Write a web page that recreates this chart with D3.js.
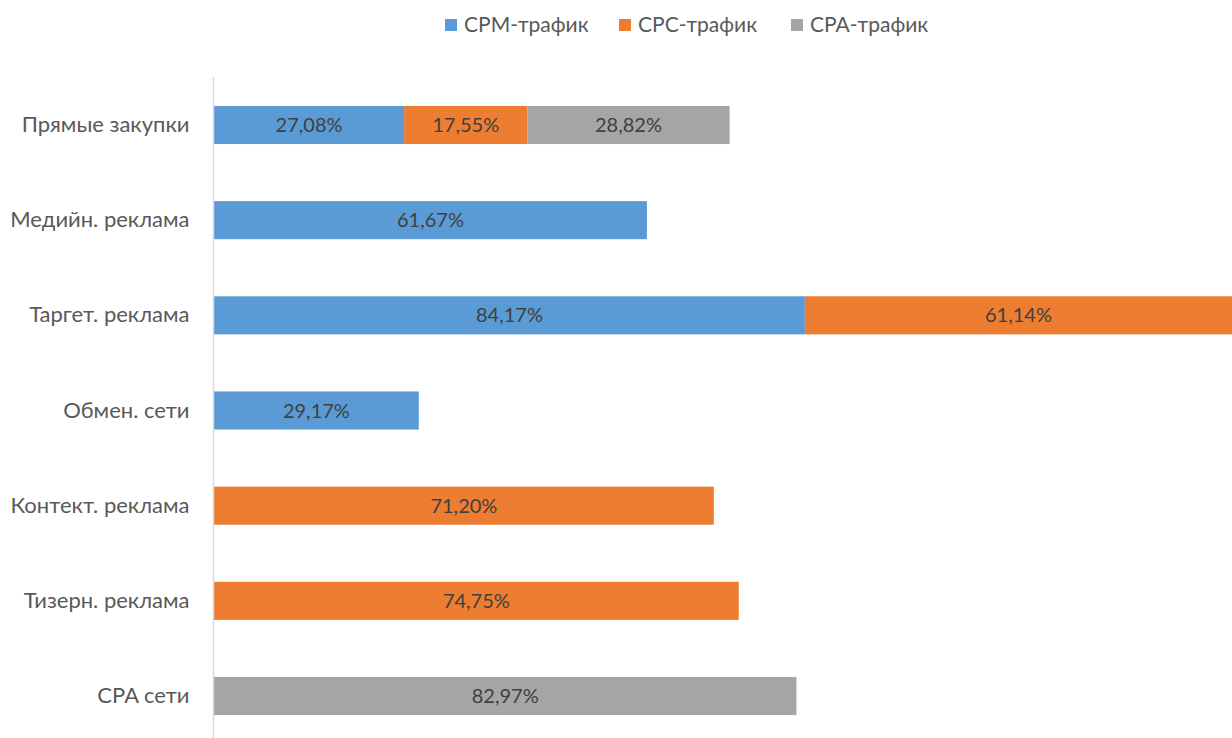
<!DOCTYPE html>
<html>
<head>
<meta charset="utf-8">
<script src="https://cdn.jsdelivr.net/npm/d3@7"></script>
<style>
  html, body { margin: 0; padding: 0; background: #fff; overflow: hidden; }
  svg { display: block; font-family: Lato, "Open Sans", sans-serif; }
</style>
</head>
<body>
<svg id="chart" width="1232" height="738"></svg>
<script>
// Channel categories, top to bottom
const categories = [
  "Прямые закупки",
  "Медийн. реклама",
  "Таргет. реклама",
  "Обмен. сети",
  "Контект. реклама",
  "Тизерн. реклама",
  "CPA сети"
];
// Share of each traffic type per channel, % (null = not present)
const cpmValues = [27.08, 61.67, 84.17, 29.17, null, null, null];
const cpcValues = [17.55, null, 61.14, null, 71.20, 74.75, null];
const cpaValues = [28.82, null, null, null, null, null, 82.97];

const seriesNames = ["CPM-трафик", "CPC-трафик", "CPA-трафик"];
const seriesColors = ["#5B9BD5", "#ED7D31", "#A5A5A5"];
const seriesValues = [cpmValues, cpcValues, cpaValues];

const svg = d3.select("#chart");
const W = 1232, H = 738;
const left = 214;

const x = d3.scaleLinear().domain([0, 100]).range([left, left + 702]);
const y = d3.scaleBand().domain(categories).range([77.4, 743.6])
  .paddingInner(0.6).paddingOuter(0.3);

// Build stacked segments
const segments = [];
categories.forEach((cat, i) => {
  let acc = 0;
  seriesValues.forEach((vals, s) => {
    const v = vals[i];
    if (v != null) {
      segments.push({ cat, s, v, x0: acc, x1: acc + v });
      acc += v;
    }
  });
});

const fmt = v => v.toFixed(2).replace(".", ",") + "%";

svg.append("g").selectAll("rect").data(segments).join("rect")
  .attr("x", d => x(d.x0))
  .attr("y", d => y(d.cat))
  .attr("width", d => x(d.x1) - x(d.x0))
  .attr("height", y.bandwidth())
  .attr("fill", d => seriesColors[d.s]);

// Data labels centred in each visible segment
svg.append("g").selectAll("text").data(segments).join("text")
  .attr("x", d => (x(d.x0) + Math.min(x(d.x1), W)) / 2)
  .attr("y", d => y(d.cat) + y.bandwidth() / 2)
  .attr("dy", "0.35em")
  .attr("text-anchor", "middle")
  .attr("fill", "#404040")
  .style("font-size", "20px")
  .text(d => fmt(d.v));

// Category axis
const axis = d3.axisLeft(y).tickSize(0).tickPadding(24);
const ag = svg.append("g").attr("transform", `translate(${left - 0.5},0)`).call(axis);
ag.select(".domain").attr("stroke", "#D9D9D9").attr("stroke-width", 1.5)
  .attr("d", `M0,77V${H}`);
ag.selectAll(".tick text")
  .attr("fill", "#595959")
  .style("font-size", "22px")
  .style("font-family", "Lato, sans-serif");

// Legend
const legendX = [445, 619, 791];
const lg = svg.append("g");
seriesNames.forEach((name, i) => {
  lg.append("rect").attr("x", legendX[i]).attr("y", 19).attr("width", 12).attr("height", 12)
    .attr("fill", seriesColors[i]);
  lg.append("text").attr("x", legendX[i] + 19).attr("y", 25).attr("dy", "0.35em")
    .attr("fill", "#595959").style("font-size", "21px").text(name);
});
</script>
</body>
</html>
